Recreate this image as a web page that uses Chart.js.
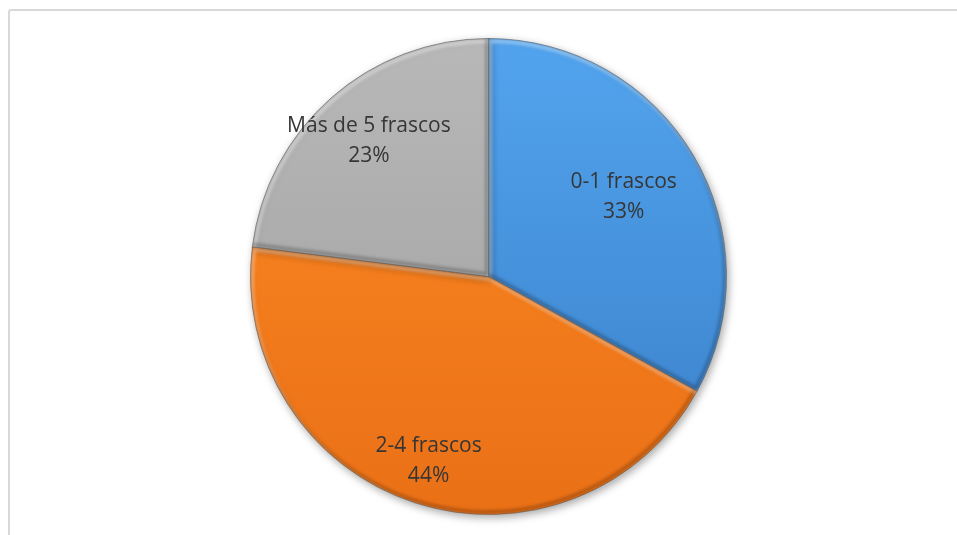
<!DOCTYPE html>
<html>
<head>
<meta charset="utf-8">
<script src="https://cdn.jsdelivr.net/npm/chart.js@4"></script>
<style>
  html, body { margin: 0; padding: 0; background: #fff; }
  #wrap { position: relative; width: 957px; height: 535px; }
  #frame {
    position: absolute; left: 8px; top: 9px; right: -4px; bottom: -4px;
    border-left: 2px solid #d9d9d9; border-top: 2px solid #d9d9d9;
    border-top-left-radius: 3px;
  }
  canvas { position: absolute; left: 0; top: 0; }
</style>
</head>
<body>
<div id="wrap">
  <div id="frame"></div>
  <canvas id="pie" width="957" height="535"></canvas>
</div>
<script>
// datos
const categorias = ['0-1 frascos', '2-4 frascos', 'Más de 5 frascos'];
const porcentajes = [33, 44, 23];

// colores (arriba / abajo del degradado)
const COLOR_TOP = ['#52a4ee', '#fd8a24', '#b8b8b8'];
const COLOR_BOTTOM = ['#3a7fc8', '#ea7016', '#9e9e9e'];
// distancia de la etiqueta al centro (fracción del radio)
const LABEL_RADIUS = [0.66, 0.815, 0.76];

function sliceFill(context) {
  const chart = context.chart;
  const area = chart.chartArea;
  if (!area) return COLOR_TOP[context.dataIndex];
  const cy = (area.top + area.bottom) / 2;
  const r = Math.min(area.right - area.left, area.bottom - area.top) / 2;
  const g = chart.ctx.createLinearGradient(0, cy - r, 0, cy + r);
  g.addColorStop(0, COLOR_TOP[context.dataIndex]);
  g.addColorStop(1, COLOR_BOTTOM[context.dataIndex]);
  return g;
}

function arcPath(ctx, p) {
  ctx.beginPath();
  ctx.moveTo(p.x, p.y);
  ctx.arc(p.x, p.y, p.outerRadius, p.startAngle, p.endAngle);
  ctx.closePath();
}

// sombra suave alrededor del pastel
const shadowPlugin = {
  id: 'shadow',
  beforeDatasetsDraw(chart) {
    const ctx = chart.ctx;
    ctx.save();
    ctx.shadowColor = 'rgba(0,0,0,0.35)';
    ctx.shadowBlur = 8;
    ctx.shadowOffsetX = 2;
    ctx.shadowOffsetY = 3;
  },
  afterDatasetsDraw(chart) {
    chart.ctx.restore();
  }
};

// biselado: brillo en los bordes superiores, sombra en los inferiores
const bevelPlugin = {
  id: 'bevel',
  afterDatasetsDraw(chart) {
    const ctx = chart.ctx;
    chart.getDatasetMeta(0).data.forEach((arc) => {
      const p = arc.getProps(['x', 'y', 'startAngle', 'endAngle', 'outerRadius'], true);
      ctx.save();
      arcPath(ctx, p);
      ctx.clip();
      ctx.filter = 'blur(1.5px)';
      ctx.lineWidth = 4;
      ctx.save();
      ctx.translate(1.5, 2.5);
      arcPath(ctx, p);
      ctx.strokeStyle = 'rgba(255,255,255,0.35)';
      ctx.stroke();
      ctx.restore();
      ctx.save();
      ctx.translate(-1.5, -2.5);
      arcPath(ctx, p);
      ctx.strokeStyle = 'rgba(0,0,0,0.22)';
      ctx.stroke();
      ctx.restore();
      ctx.restore();
    });
  }
};

// etiquetas: categoría + porcentaje dentro de cada porción
const labelPlugin = {
  id: 'sliceLabels',
  afterDraw(chart) {
    const ctx = chart.ctx;
    const meta = chart.getDatasetMeta(0);
    ctx.save();
    ctx.font = '21px "Open Sans", sans-serif';
    ctx.fillStyle = '#363636';
    ctx.textAlign = 'center';
    ctx.textBaseline = 'middle';
    meta.data.forEach((arc, i) => {
      const p = arc.getProps(['x', 'y', 'startAngle', 'endAngle', 'outerRadius'], true);
      const mid = (p.startAngle + p.endAngle) / 2;
      const d = p.outerRadius * LABEL_RADIUS[i];
      const x = p.x + Math.cos(mid) * d;
      const y = p.y + Math.sin(mid) * d;
      ctx.fillText(categorias[i], x, y - 15);
      ctx.fillText(porcentajes[i] + '%', x, y + 15);
    });
    ctx.restore();
  }
};

new Chart(document.getElementById('pie'), {
  type: 'pie',
  data: {
    labels: categorias,
    datasets: [{
      data: porcentajes,
      backgroundColor: sliceFill,
      borderColor: 'rgba(50,50,50,0.45)',
      borderWidth: 1
    }]
  },
  options: {
    responsive: false,
    animation: false,
    layout: { padding: { top: 38, bottom: 20, left: 20, right: 0 } },
    plugins: {
      legend: { display: false },
      tooltip: { enabled: false }
    }
  },
  plugins: [shadowPlugin, bevelPlugin, labelPlugin]
});
</script>
</body>
</html>
